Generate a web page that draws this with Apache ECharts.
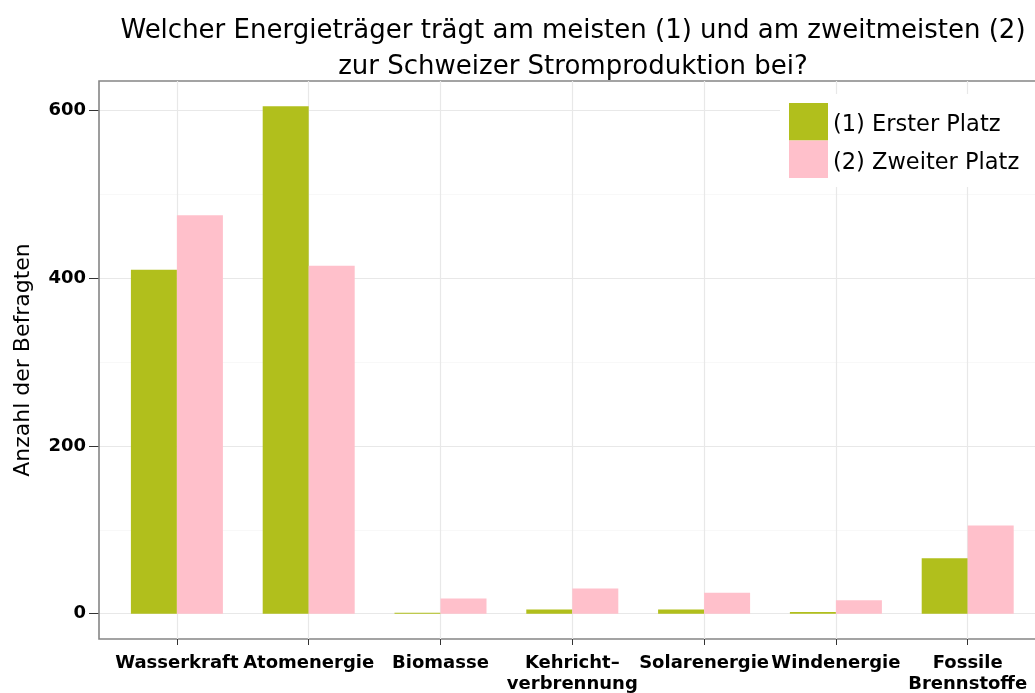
<!DOCTYPE html>
<html>
<head>
<meta charset="utf-8">
<script src="https://cdn.jsdelivr.net/npm/echarts@6/dist/echarts.min.js"></script>
<style>
  html, body { margin: 0; padding: 0; background: #fff; }
  #chart { width: 1035px; height: 693px; }
</style>
</head>
<body>
<div id="chart"></div>
<script>
// Energieträger und Anzahl der Befragten
const categories = ['Wasserkraft', 'Atomenergie', 'Biomasse', 'Kehricht–\nverbrennung', 'Solarenergie', 'Windenergie', 'Fossile\nBrennstoffe']
const erster = [410, 605, 1, 5, 5, 2, 66]
const zweiter = [475, 415, 18, 30, 25, 16, 105]
const majorTicks = [0, 200, 400, 600]
const minorTicks = [100, 300, 500]

const yMin = -30.25
const yMax = 635.25
const font = 'DejaVu Sans'

const chart = echarts.init(document.getElementById('chart'))
chart.setOption({
  animation: false,
  textStyle: { fontFamily: font },
  title: {
    text: 'Welcher Energieträger trägt am meisten (1) und am zweitmeisten (2)\nzur Schweizer Stromproduktion bei?',
    left: 568,
    top: 8,
    textAlign: 'center',
    textStyle: { fontFamily: font, fontSize: 26, fontWeight: 'normal', color: '#000', lineHeight: 36 }
  },
  legend: {
    data: ['(1) Erster Platz', '(2) Zweiter Platz'],
    orient: 'vertical',
    left: 780,
    top: 94,
    padding: [9, 20, 9, 9],
    backgroundColor: '#fff',
    itemWidth: 39,
    itemHeight: 37.5,
    itemGap: 0,
    icon: 'rect',
    formatter: '{t|{name}}',
    textStyle: {
      fontFamily: font,
      fontSize: 22.5,
      color: '#000',
      rich: { t: { fontFamily: font, fontSize: 22.5, color: '#000', padding: [7, 0, 0, 0] } }
    }
  },
  grid: [
    // panel with border and horizontal grid
    { left: 99, top: 81, right: -12, bottom: 54, outerBoundsMode: 'none', show: true, borderColor: '#858585', borderWidth: 1.6, backgroundColor: 'transparent' },
    // bars
    { left: 111, top: 81, width: 922.6, bottom: 54, outerBoundsMode: 'none' }
  ],
  xAxis: [
    { gridIndex: 0, type: 'value', min: 0, max: 1, show: false },
    {
      gridIndex: 1,
      type: 'category',
      data: categories,
      axisLine: { show: false, onZero: false },
      axisTick: { show: true, alignWithLabel: true, length: 6, lineStyle: { color: '#333' } },
      axisLabel: { interval: 0, margin: 14, color: '#000', fontWeight: 'bold', fontSize: 18, lineHeight: 21 },
      splitLine: { show: false }
    }
  ],
  yAxis: [
    {
      gridIndex: 0,
      type: 'value',
      z: -1,
      min: yMin,
      max: yMax,
      name: 'Anzahl der Befragten',
      nameLocation: 'middle',
      nameRotate: 90,
      nameGap: 65,
      nameTextStyle: { fontFamily: font, fontSize: 22, color: '#000' },
      axisLine: { show: false },
      axisTick: { show: true, length: 10, customValues: majorTicks, lineStyle: { color: '#333' } },
      axisLabel: { customValues: majorTicks, margin: 13, color: '#000', fontWeight: 'bold', fontSize: 18 },
      splitLine: { show: true, lineStyle: { color: '#e8e8e8', width: 1.2 } }
    },
    {
      gridIndex: 0,
      type: 'value',
      z: -1,
      min: yMin,
      max: yMax,
      axisLine: { show: false },
      axisTick: { show: false, customValues: minorTicks },
      axisLabel: { show: false },
      splitLine: { show: true, lineStyle: { color: '#f8f8f8', width: 1.2 } }
    },
    { gridIndex: 1, type: 'value', min: yMin, max: yMax, show: false, splitLine: { show: false } }
  ],
  series: [
    {
      // vertical grid lines at the category centres
      type: 'line',
      xAxisIndex: 1,
      yAxisIndex: 2,
      data: [],
      silent: true,
      z: 1,
      markLine: {
        silent: true,
        symbol: 'none',
        z: 1,
        label: { show: false },
        lineStyle: { color: '#e8e8e8', width: 1.2, type: 'solid' },
        data: categories.map(c => ({ xAxis: c }))
      }
    },
    {
      name: '(1) Erster Platz',
      type: 'bar',
      xAxisIndex: 1,
      yAxisIndex: 2,
      data: erster,
      barWidth: 46,
      barGap: '0%',
      itemStyle: { color: '#b1bf1c' }
    },
    {
      name: '(2) Zweiter Platz',
      type: 'bar',
      xAxisIndex: 1,
      yAxisIndex: 2,
      data: zweiter,
      barWidth: 46,
      barGap: '0%',
      itemStyle: { color: '#ffc0cb' }
    }
  ]
})
</script>
</body>
</html>
